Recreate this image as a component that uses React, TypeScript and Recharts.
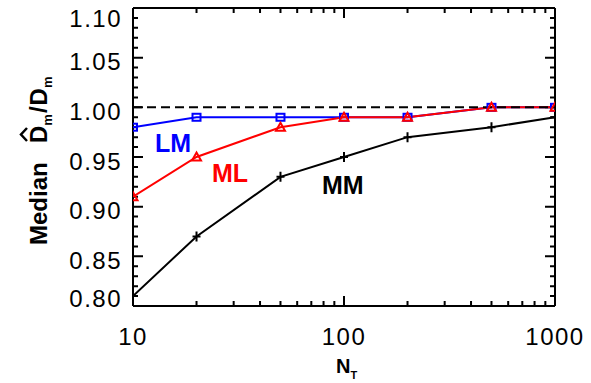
import React from 'react';
import { ComposedChart, Line, XAxis, YAxis, ReferenceLine } from 'recharts';

// Number of samples N_T and the median ratio for each estimator
const nT = [10, 20, 50, 100, 200, 500, 1000];
const lmMedian = [0.98, 0.99, 0.99, 0.99, 0.99, 1.0, 1.0];
const mlMedian = [0.91, 0.95, 0.98, 0.99, 0.99, 1.0, 1.0];
const mmMedian = [0.81, 0.87, 0.93, 0.95, 0.97, 0.98, 0.99];

// Axis ticks
const xMajorTicks = [10, 100, 1000];
const xTicks = [10, 20, 30, 40, 50, 60, 70, 80, 90, 100, 200, 300, 400, 500, 600, 700, 800, 900, 1000];
const yTickLabels = ['0.80', '0.85', '0.90', '0.95', '1.00', '1.05', '1.10'];
const yTicks = Array.from({ length: 31 }, (_, i) => Number((0.8 + i * 0.01).toFixed(2)));

const data = nT.map((n, i) => ({ n, lm: lmMedian[i], ml: mlMedian[i], mm: mmMedian[i] }));

const W = 591;
const H = 383;
const MARGIN = { top: 8, right: 36, bottom: 0, left: 0 };
const Y_AXIS_W = 133;
const X_AXIS_H = 77;
const FONT = '"Liberation Sans", Arial, Helvetica, sans-serif';
const MAJOR = 10;
const MINOR = 5;

const isMajorY = (v: number) => yTickLabels.includes(v.toFixed(2));

// Bottom axis labels
const BottomTick = (props: any) => {
  const { x, y, payload } = props;
  const v = payload.value;
  if (!xMajorTicks.includes(v)) return <g />;
  return (
    <text x={x} y={y + 39} textAnchor="middle" fontSize={24} fontFamily={FONT} letterSpacing={1.5} fill="#000">
      {String(v)}
    </text>
  );
};

// Left axis labels
const LeftTick = (props: any) => {
  const { x, y, payload } = props;
  const v = payload.value as number;
  if (!isMajorY(v)) return <g />;
  const label = v.toFixed(2);
  let cy = y + 4;
  if (label === '0.80') cy = y - 8;
  if (label === '1.10') cy = y + 10.5;
  return (
    <text x={x - 11} y={cy + 8.5} textAnchor="end" fontSize={24} fontFamily={FONT} letterSpacing={1.5} fill="#000">
      {label}
    </text>
  );
};

// Inward tick stubs at both ends of a horizontal reference line (left and right edges)
const yStub = (len: number) => (p: any) => {
  const { x1, x2, y1 } = p;
  if (x1 == null || y1 == null) return <g />;
  const l = Math.min(x1, x2);
  const r = Math.max(x1, x2);
  return <path d={`M${l},${y1}H${l + len}M${r},${y1}H${r - len}`} stroke="#000" strokeWidth={2} fill="none" />;
};

// Inward tick stubs at both ends of a vertical reference line (bottom and top edges)
const xStub = (len: number) => (p: any) => {
  const { x1, y1, y2 } = p;
  if (x1 == null || y1 == null) return <g />;
  const t = Math.min(y1, y2);
  const b = Math.max(y1, y2);
  return <path d={`M${x1},${b}V${b - len}M${x1},${t}V${t + len}`} stroke="#000" strokeWidth={2} fill="none" />;
};

// y-axis title plus the estimator names inside the plot
const YTitle = () => (
  <g fontFamily={FONT} fontWeight="bold">
    <g transform="translate(47,245) rotate(-90)" fill="#000">
      <text x={0} y={0} fontSize={24}>
        <tspan>Median</tspan>
        <tspan x={102}>D</tspan>
        <tspan fontSize={13} dy={5}>m</tspan>
        <tspan dy={-5} dx={1}>/</tspan>
        <tspan dx={1}>D</tspan>
        <tspan fontSize={13} dy={5}>m</tspan>
      </text>
      <polyline points="104,-20 110.5,-26 117,-20" fill="none" stroke="#000" strokeWidth={2.5} />
    </g>
    <text x={155} y={152} fontSize={25} fill="#0000ff">LM</text>
    <text x={212} y={182} fontSize={25} fill="#ff0000">ML</text>
    <text x={322} y={194} fontSize={25} fill="#000">MM</text>
  </g>
);

const XTitle = () => (
  <text x={336} y={373} fontSize={20} fontWeight="bold" fontFamily={FONT} fill="#000">
    N<tspan fontSize={11} dy={6}>T</tspan>
  </text>
);

const SquareDot = (props: any) => {
  const { cx, cy } = props;
  if (cx == null || cy == null) return null;
  return <rect x={cx - 4} y={cy - 3.5} width={8} height={7} fill="none" stroke="#0000ff" strokeWidth={2} />;
};

const TriangleDot = (props: any) => {
  const { cx, cy } = props;
  if (cx == null || cy == null) return null;
  return (
    <polygon
      points={`${cx},${cy - 4.5} ${cx + 4.5},${cy + 3.5} ${cx - 4.5},${cy + 3.5}`}
      fill="none"
      stroke="#ff0000"
      strokeWidth={2}
    />
  );
};

const PlusDot = (props: any) => {
  const { cx, cy } = props;
  if (cx == null || cy == null) return null;
  return <path d={`M${cx - 4},${cy}H${cx + 4}M${cx},${cy - 5}V${cy + 5}`} stroke="#000" strokeWidth={2} fill="none" />;
};

export default function App() {
  return (
    <div style={{ position: 'absolute', left: 0, top: 0, width: W, height: H }}>
      <ComposedChart width={W} height={H} data={data} margin={MARGIN}>
        <XAxis
          xAxisId="b"
          dataKey="n"
          type="number"
          scale="log"
          domain={[10, 1000]}
          ticks={xTicks}
          interval={0}
          height={X_AXIS_H}
          tickSize={0}
          tickMargin={0}
          tickLine={false}
          axisLine={false}
          tick={<BottomTick />}
          label={<XTitle />}
          allowDataOverflow
        />
        <YAxis
          yAxisId="l"
          type="number"
          domain={[0.8, 1.1]}
          ticks={yTicks}
          interval={0}
          width={Y_AXIS_W}
          tickSize={0}
          tickMargin={0}
          tickLine={false}
          axisLine={false}
          tick={<LeftTick />}
          label={<YTitle />}
          allowDataOverflow
        />
        {/* tick marks on all four edges */}
        {yTicks.map((v) => (
          <ReferenceLine
            key={`yt-${v}`}
            xAxisId="b"
            yAxisId="l"
            y={v}
            stroke="#000"
            strokeWidth={2}
            shape={yStub(isMajorY(v) ? MAJOR : MINOR)}
          />
        ))}
        {xTicks.map((v) => (
          <ReferenceLine
            key={`xt-${v}`}
            xAxisId="b"
            yAxisId="l"
            x={v}
            stroke="#000"
            strokeWidth={2}
            shape={xStub(xMajorTicks.includes(v) ? MAJOR : MINOR)}
          />
        ))}
        {/* plot frame */}
        <ReferenceLine xAxisId="b" yAxisId="l" y={0.8} stroke="#000" strokeWidth={2} />
        <ReferenceLine xAxisId="b" yAxisId="l" y={1.1} stroke="#000" strokeWidth={2} />
        <ReferenceLine xAxisId="b" yAxisId="l" x={10} stroke="#000" strokeWidth={2} />
        <ReferenceLine xAxisId="b" yAxisId="l" x={1000} stroke="#000" strokeWidth={2} />
        <Line
          xAxisId="b"
          yAxisId="l"
          dataKey="lm"
          stroke="#0000ff"
          strokeWidth={2}
          dot={<SquareDot />}
          activeDot={false}
          isAnimationActive={false}
        />
        <Line
          xAxisId="b"
          yAxisId="l"
          dataKey="ml"
          stroke="#ff0000"
          strokeWidth={2}
          dot={<TriangleDot />}
          activeDot={false}
          isAnimationActive={false}
        />
        <Line
          xAxisId="b"
          yAxisId="l"
          dataKey="mm"
          stroke="#000"
          strokeWidth={2}
          dot={<PlusDot />}
          activeDot={false}
          isAnimationActive={false}
        />
        <ReferenceLine xAxisId="b" yAxisId="l" y={1} stroke="#000" strokeWidth={2} strokeDasharray="9 5" />
      </ComposedChart>
    </div>
  );
}
